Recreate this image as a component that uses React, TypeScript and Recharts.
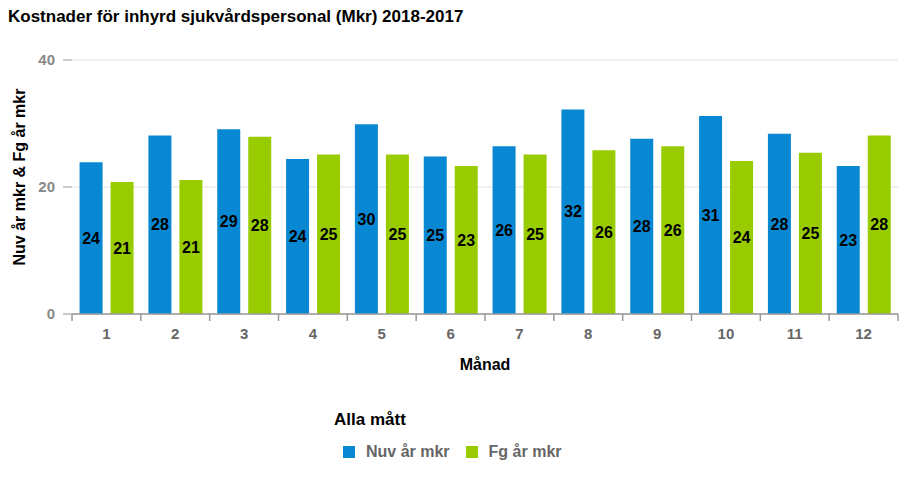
import React from "react";
import {
  BarChart,
  Bar,
  XAxis,
  YAxis,
  CartesianGrid,
  LabelList,
} from "recharts";

const months = ["1", "2", "3", "4", "5", "6", "7", "8", "9", "10", "11", "12"];
const nuvAr = [23.9, 28.1, 29.1, 24.4, 29.9, 24.8, 26.4, 32.2, 27.6, 31.2, 28.4, 23.3];
const fgAr = [20.8, 21.1, 27.9, 25.1, 25.1, 23.3, 25.1, 25.8, 26.4, 24.1, 25.4, 28.1];
const yTicks = [0, 20, 40];

const data = months.map((m, i) => ({ month: m, nuv: nuvAr[i], fg: fgAr[i] }));

const BLUE = "#0888d2";
const GREEN = "#99cc00";
const FONT = "Arial, 'Liberation Sans', sans-serif";
const BAND = (906 - 72 - 8) / 12;

function MonthTick(props: any) {
  const { x, y, payload, index } = props;
  return (
    <g>
      <line x1={x - BAND / 2} y1={y - 8} x2={x - BAND / 2} y2={y - 1} stroke="#999" strokeWidth={1.5} />
      {index === months.length - 1 && (
        <line x1={x + BAND / 2} y1={y - 8} x2={x + BAND / 2} y2={y - 1} stroke="#999" strokeWidth={1.5} />
      )}
      <text x={x} y={y + 17} textAnchor="middle" fill="#666" fontSize={15} fontWeight="bold" fontFamily={FONT}>
        {payload.value}
      </text>
    </g>
  );
}

function LegendBox() {
  const items = [
    { name: "Nuv år mkr", color: BLUE },
    { name: "Fg år mkr", color: GREEN },
  ];
  return (
    <div style={{ position: "absolute", left: 334, top: 410, fontFamily: FONT, fontWeight: "bold" }}>
      <div style={{ color: "#000", fontSize: 17, marginBottom: 13 }}>Alla mått</div>
      <div style={{ display: "flex", alignItems: "center", paddingLeft: 9, fontSize: 16 }}>
        {items.map((it) => (
          <div key={it.name} style={{ display: "flex", alignItems: "center", marginRight: 16 }}>
            <span style={{ width: 12, height: 12, background: it.color, display: "inline-block", marginRight: 11 }} />
            <span style={{ color: "#666" }}>{it.name}</span>
          </div>
        ))}
      </div>
    </div>
  );
}

export default function App() {
  return (
    <div style={{ position: "absolute", left: 0, top: 0, width: 906, height: 483, background: "#fff" }}>
      <div
        style={{
          position: "absolute",
          left: 8,
          top: 7,
          fontFamily: FONT,
          fontWeight: "bold",
          fontSize: 17,
          color: "#000",
        }}
      >
        Kostnader för inhyrd sjukvårdspersonal (Mkr) 2018-2017
      </div>
      <BarChart
        width={906}
        height={483}
        data={data}
        margin={{ top: 60, right: 8, bottom: 109, left: 0 }}
        barGap={8}
        barCategoryGap="11%"
      >
        <CartesianGrid vertical={false} stroke="#e2e2e2" />
        <XAxis
          dataKey="month"
          stroke="#999"
          strokeWidth={1.5}
          tickLine={false}
          tick={<MonthTick />}
          height={60}
          interval={0}
          label={{
            value: "Månad",
            position: "insideBottom",
            offset: 4,
            fill: "#000",
            fontSize: 16,
            fontWeight: "bold",
            fontFamily: FONT,
          }}
        />
        <YAxis
          width={72}
          domain={[0, 40]}
          ticks={yTicks}
          axisLine={false}
          tickSize={9}
          tickMargin={8}
          tickLine={{ stroke: "#999" }}
          tick={{ fill: "#888", fontSize: 15, fontWeight: "bold", fontFamily: FONT }}
        />
        <Bar dataKey="nuv" name="Nuv år mkr" fill={BLUE} isAnimationActive={false}>
          <LabelList
            dataKey="nuv"
            position="center"
            formatter={(v: any) => Math.round(Number(v))}
            fill="#000"
            fontSize={16}
            fontWeight="bold"
            fontFamily={FONT}
          />
        </Bar>
        <Bar dataKey="fg" name="Fg år mkr" fill={GREEN} isAnimationActive={false}>
          <LabelList
            dataKey="fg"
            position="center"
            formatter={(v: any) => Math.round(Number(v))}
            fill="#000"
            fontSize={16}
            fontWeight="bold"
            fontFamily={FONT}
          />
        </Bar>
      </BarChart>
      <div
        style={{
          position: "absolute",
          left: 20,
          top: 177,
          transform: "translate(-50%, -50%) rotate(-90deg)",
          whiteSpace: "nowrap",
          fontFamily: FONT,
          fontWeight: "bold",
          fontSize: 16,
          color: "#000",
        }}
      >
        Nuv år mkr &amp; Fg år mkr
      </div>
      <LegendBox />
    </div>
  );
}
